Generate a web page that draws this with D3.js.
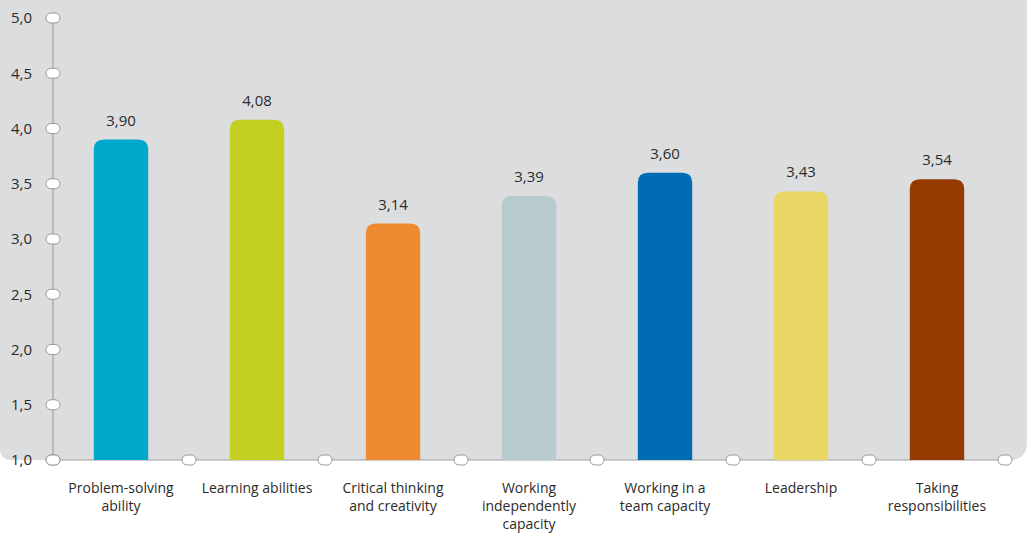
<!DOCTYPE html>
<html>
<head>
<meta charset="utf-8">
<script src="https://cdn.jsdelivr.net/npm/d3@7"></script>
<style>
  body { margin: 0; background: #fff; }
  svg { display: block; font-family: "Open Sans", sans-serif; }
</style>
</head>
<body>
<svg width="1027" height="536"></svg>
<script>
// data
const categories = [
    ["Problem-solving", "ability"],
    ["Learning abilities"],
    ["Critical thinking", "and creativity"],
    ["Working", "independently", "capacity"],
    ["Working in a", "team capacity"],
    ["Leadership"],
    ["Taking", "responsibilities"]
];
const values = [3.90, 4.08, 3.14, 3.39, 3.60, 3.43, 3.54];
const colors = ["#00a8cc", "#c3cf21", "#f08a30", "#b7cbcf", "#006cb4", "#e8d665", "#953a00"];
const yTicks = [1.0, 1.5, 2.0, 2.5, 3.0, 3.5, 4.0, 4.5, 5.0];

const svg = d3.select("svg"),
    width = +svg.attr("width"),
    height = +svg.attr("height");

const mLeft = 53, mRight = 1005, mTop = 18, mBottom = 460;

const fmt = v => d3.format(".2f")(v).replace(".", ",");
const fmtTick = v => d3.format(".1f")(v).replace(".", ",");

const x = d3.scaleBand()
    .domain(d3.range(categories.length))
    .range([mLeft, mRight])
    .paddingInner(0.6)
    .paddingOuter(0.3);

const y = d3.scaleLinear()
    .domain([1, 5])
    .range([mBottom, mTop]);

// background panel with rounded bottom corners
const r1 = 12, r2 = 18;
svg.append("path")
    .attr("d", `M0,0 H${width} V${mBottom - r2} Q${width},${mBottom} ${width - r2},${mBottom} H${r1} Q0,${mBottom} 0,${mBottom - r1} Z`)
    .attr("fill", "#dcdddf");

// axis lines
svg.append("line")
    .attr("x1", mLeft).attr("x2", mLeft)
    .attr("y1", y(5)).attr("y2", y(1))
    .attr("stroke", "#a0a0a0").attr("stroke-width", 1.2);
svg.append("line")
    .attr("x1", mLeft).attr("x2", mRight)
    .attr("y1", y(1)).attr("y2", y(1))
    .attr("stroke", "#a0a0a0").attr("stroke-width", 1.2);

// bars with rounded top corners
const rad = 10;
const barPath = (x0, w, yTop, yBot) =>
    `M${x0},${yBot} V${yTop + rad} Q${x0},${yTop} ${x0 + rad},${yTop} H${x0 + w - rad} Q${x0 + w},${yTop} ${x0 + w},${yTop + rad} V${yBot} Z`;

svg.selectAll(".bar")
    .data(values)
    .enter().append("path")
    .attr("class", "bar")
    .attr("fill", (d, i) => colors[i])
    .attr("d", (d, i) => barPath(x(i), x.bandwidth(), y(d), y(1)));

svg.selectAll(".val")
    .data(values)
    .enter().append("text")
    .attr("class", "val")
    .attr("x", (d, i) => x(i) + x.bandwidth() / 2)
    .attr("y", d => y(d) - 14)
    .attr("text-anchor", "middle")
    .attr("font-size", 15)
    .attr("fill", "#2b2b2b")
    .text(fmt);

// y tick pills + labels
const pill = (cx, cy) => svg.append("rect")
    .attr("x", cx - 7).attr("y", cy - 5)
    .attr("width", 14).attr("height", 10)
    .attr("rx", 5).attr("ry", 5)
    .attr("fill", "#fff").attr("stroke", "#9a9a9a").attr("stroke-width", 1);

yTicks.forEach(t => {
    pill(mLeft, y(t));
    svg.append("text")
        .attr("x", 32)
        .attr("y", y(t))
        .attr("dy", "0.35em")
        .attr("text-anchor", "end")
        .attr("font-size", 15)
        .attr("fill", "#2b2b2b")
        .text(fmtTick(t));
});

// x tick pills between bars
const step = x.step();
d3.range(categories.length + 1).forEach(i => {
    pill(mLeft + i * step, y(1));
});

// category labels
const lab = svg.selectAll(".cat")
    .data(categories)
    .enter().append("text")
    .attr("class", "cat")
    .attr("text-anchor", "middle")
    .attr("font-size", 14)
    .attr("fill", "#2b2b2b");

lab.selectAll("tspan")
    .data((d, i) => d.map(s => ({ s, i })))
    .enter().append("tspan")
    .attr("x", d => x(d.i) + x.bandwidth() / 2)
    .attr("y", (d, j) => 493 + j * 18)
    .text(d => d.s);
</script>
</body>
</html>
